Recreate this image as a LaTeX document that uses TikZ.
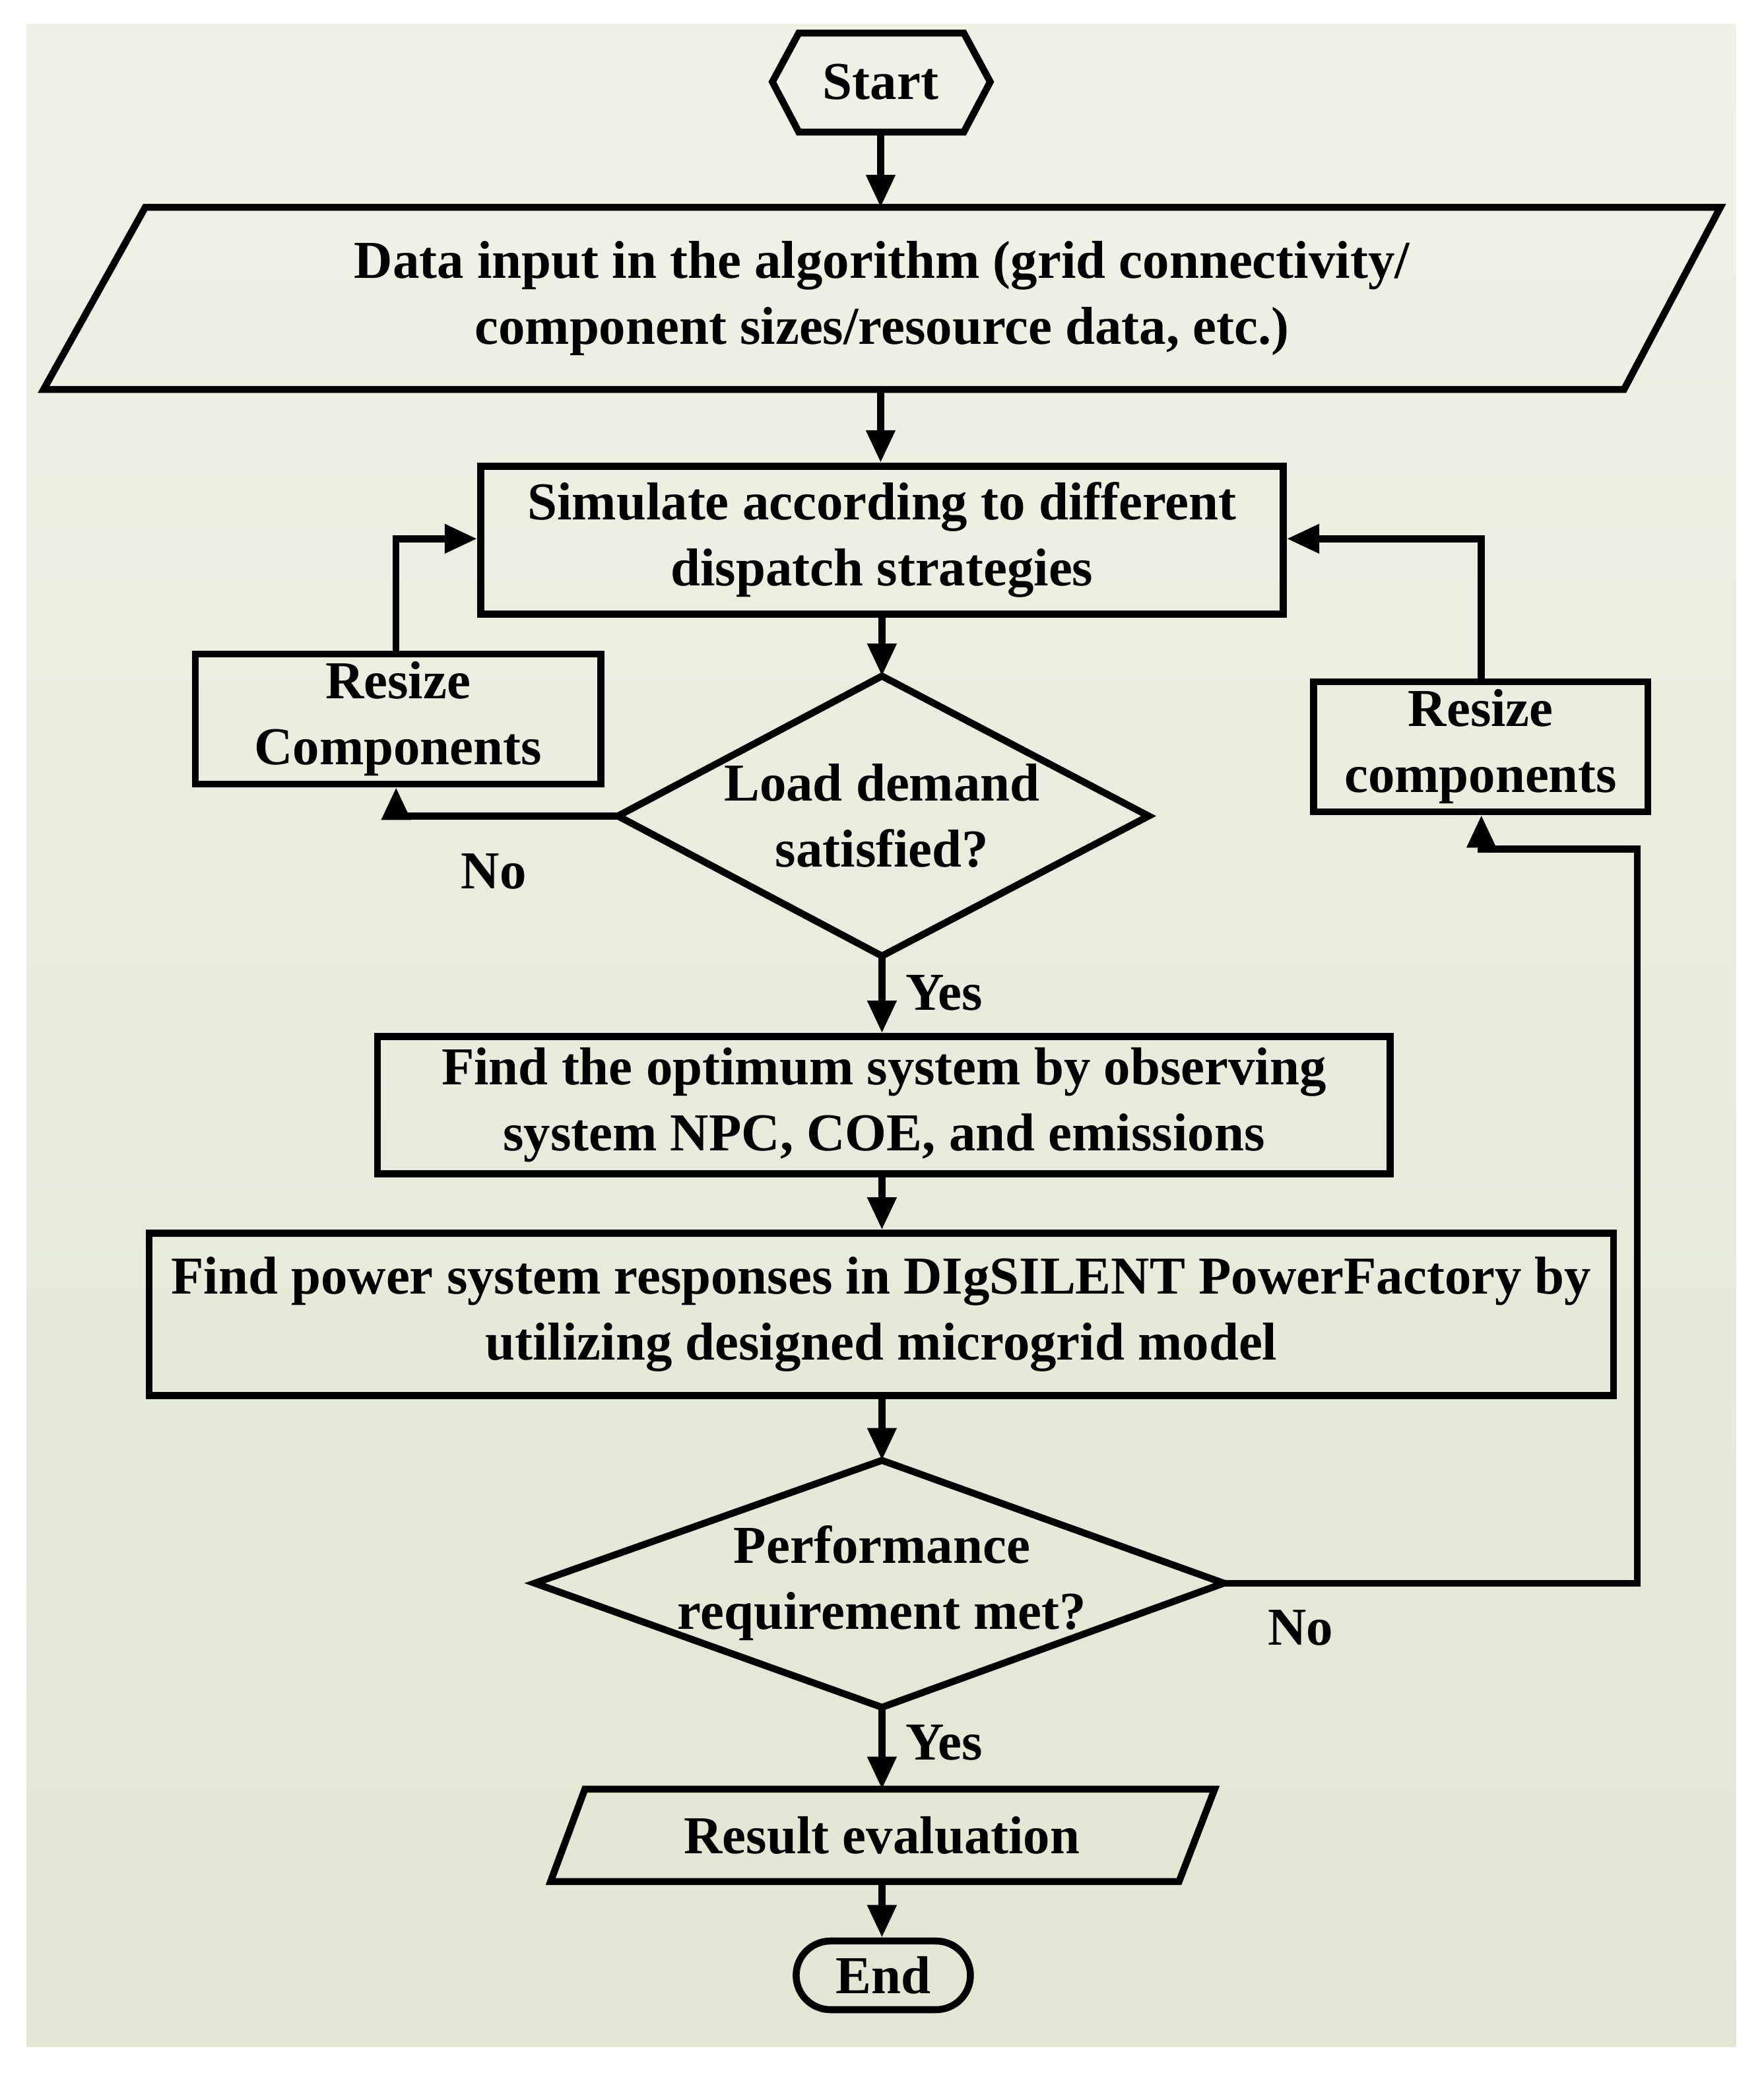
\documentclass[tikz,border=0pt]{standalone}
\usepackage{fontspec}
\setmainfont{Liberation Serif}
\usetikzlibrary{arrows.meta,shapes.geometric}
\begin{document}
\begin{tikzpicture}[x=0.02cm,y=-0.02cm,
  box/.style={draw,line width=3pt,fill=none},
  txt/.style={font=\bfseries\fontsize{23}{28.5}\selectfont,align=center},
  arr/.style={line width=3pt,-{Triangle[length=14pt,width=12pt]}},
  ln/.style={line width=3pt}]
\useasboundingbox (0,0) rectangle (1336,1573);
\fill[white] (0,0) rectangle (1336,1573);
\shade[top color={rgb,255:red,240;green,242;blue,230},bottom color={rgb,255:red,226;green,230;blue,210}] (20,18) rectangle (1315,1550);
% shapes
\draw[box] (585,62)--(605,25)--(730,25)--(750,62)--(730,100)--(605,100)--cycle;
\node[txt] (start) at (667,62) {Start};
\coordinate (startb) at (667,100);
\draw[box] (110,157)--(1303,157)--(1230,295)--(33,295)--cycle;
\node[txt] (data) at (668,226) {Data input in the algorithm (grid connectivity/\\component sizes/resource data, etc.)};
\coordinate (datat) at (667,157); \coordinate (datab) at (667,295);
\node[box,txt,minimum width=608*0.02cm,minimum height=112*0.02cm] (sim) at (668,409) {Simulate according to different\\dispatch strategies};
\node[box,txt,minimum width=307*0.02cm,minimum height=95*0.02cm] (rl) at (301.5,544.5) {Resize\\Components};
\node[box,txt,minimum width=253*0.02cm,minimum height=95*0.02cm] (rr) at (1121.5,565.5) {Resize\\components};
\draw[box] (468,618)--(668,512)--(870,618)--(668,724)--cycle;
\node[txt] (d1) at (668,618) {Load demand\\satisfied?};
\coordinate (d1t) at (668,512); \coordinate (d1b) at (668,724); \coordinate (d1l) at (468,618);
\node[box,txt,minimum width=767*0.02cm,minimum height=104*0.02cm] (opt) at (669.5,837) {Find the optimum system by observing\\system NPC, COE, and emissions};
\node[box,txt,minimum width=1109*0.02cm,minimum height=123*0.02cm] (pf) at (667.5,995.5) {Find power system responses in DIgSILENT PowerFactory by\\utilizing designed microgrid model};
\draw[box] (405,1199)--(668,1106)--(927,1199)--(668,1293)--cycle;
\node[txt] (d2) at (668,1199) {Performance\\requirement met?};
\coordinate (d2t) at (668,1106); \coordinate (d2b) at (668,1293); \coordinate (d2r) at (927,1199);
\draw[box] (443,1355)--(920,1355)--(893,1425)--(417,1425)--cycle;
\node[txt] (res) at (668,1390) {Result evaluation};
\coordinate (rest) at (668,1355); \coordinate (resb) at (668,1425);
\node[box,txt,rounded corners=26*0.02cm,minimum width=132*0.02cm,minimum height=52*0.02cm] (end) at (669,1496) {End};
% connectors
\draw[arr] (startb)--(datat);
\draw[arr] (datab)--(sim.north-|datab);
\draw[arr] (sim.south-|d1t)--(d1t);
\draw[arr] (d1b)--(opt.north-|d1b);
\draw[arr] (opt.south-|d1b)--(pf.north-|d1b);
\draw[arr] (pf.south-|d2t)--(d2t);
\draw[arr] (d2b)--(rest);
\draw[arr] (resb)--(end.north-|resb);
\draw[arr] (d1l)--(300,618)--(rl.south-|300,0);
\draw[arr] (rl.north-|300,0)--(300,408)--(sim.west|-0,408);
\draw[arr] (d2r)--(1240,1199)--(1240,643)--(1122,643)--(rr.south-|1122,0);
\draw[arr] (rr.north-|1122,0)--(1122,408)--(sim.east|-0,408);
% labels
\node[txt] (no1) at (374,660) {No};
\node[txt] (yes1) at (715,752) {Yes};
\node[txt] (no2) at (985,1233) {No};
\node[txt] (yes2) at (715,1320) {Yes};
\end{tikzpicture}
\end{document}
